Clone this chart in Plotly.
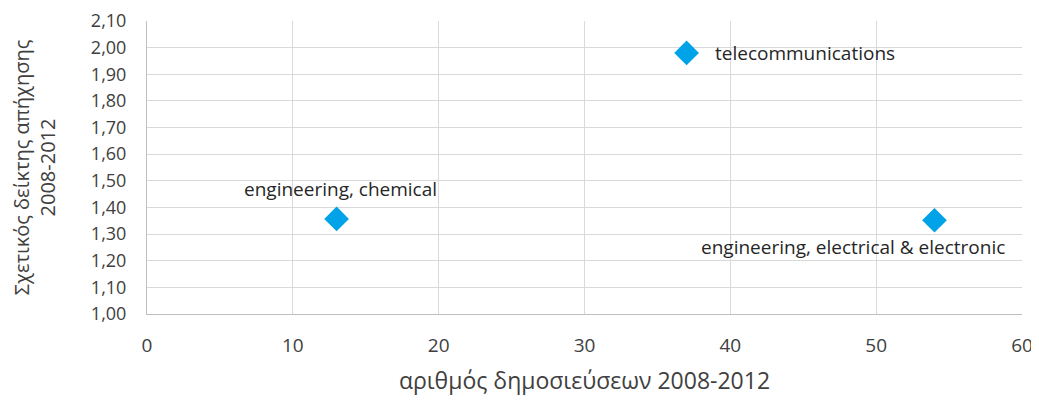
import plotly.graph_objects as go

# Data
fields = ["engineering, chemical", "telecommunications", "engineering, electrical & electronic"]
publications = [13, 37, 54]
relative_impact = [1.357, 1.98, 1.352]
y_ticks = [1.0, 1.1, 1.2, 1.3, 1.4, 1.5, 1.6, 1.7, 1.8, 1.9, 2.0, 2.1]

# label placement per point (xanchor, yanchor, xshift, yshift)
label_pos = [
    ("center", "bottom", 4, 15),
    ("left", "middle", 26, 0),
    ("center", "top", -82, -12),
]

fig = go.Figure()

fig.add_trace(
    go.Scatter(
        x=publications,
        y=relative_impact,
        mode="markers",
        marker=dict(symbol="diamond", size=19, color="#00a2e8"),
        hoverinfo="skip",
        showlegend=False,
    )
)

for name, px_, py_, (xa, ya, xs, ys) in zip(fields, publications, relative_impact, label_pos):
    fig.add_annotation(
        x=px_,
        y=py_,
        text=name,
        showarrow=False,
        xanchor=xa,
        yanchor=ya,
        xshift=xs,
        yshift=ys,
        font=dict(size=19, color="#262626"),
    )

# page body keeps an 8px margin: margins are set so the plot lands where the reference has it
fig.update_layout(
    width=1039,
    height=400,
    separators=",.",
    font=dict(family="Open Sans", size=19, color="#404040"),
    plot_bgcolor="white",
    paper_bgcolor="white",
    margin=dict(l=139, r=25, t=13, b=94, autoexpand=False),
    xaxis=dict(
        range=[0, 60],
        dtick=10,
        showgrid=True,
        gridcolor="#d9d9d9",
        showline=True,
        linecolor="#bfbfbf",
        zeroline=False,
        ticks="",
        automargin=False,
        ticklabeloverflow="allow",
        ticklabelstandoff=14,
        tickfont=dict(size=19),
        title=dict(text="αριθμός δημοσιεύσεων 2008-2012", font=dict(size=23), standoff=16),
    ),
    yaxis=dict(
        range=[1.0, 2.1],
        tickvals=y_ticks,
        tickformat=".2f",
        showgrid=True,
        gridcolor="#d9d9d9",
        showline=True,
        linecolor="#bfbfbf",
        zeroline=False,
        ticks="",
        automargin=False,
        ticklabeloverflow="allow",
        ticklabelstandoff=16,
        tickfont=dict(size=18),
        title=dict(text="Σχετικός δείκτης απήχησης<br>2008-2012", font=dict(size=20), standoff=36),
    ),
)

fig.write_html("out.html")
